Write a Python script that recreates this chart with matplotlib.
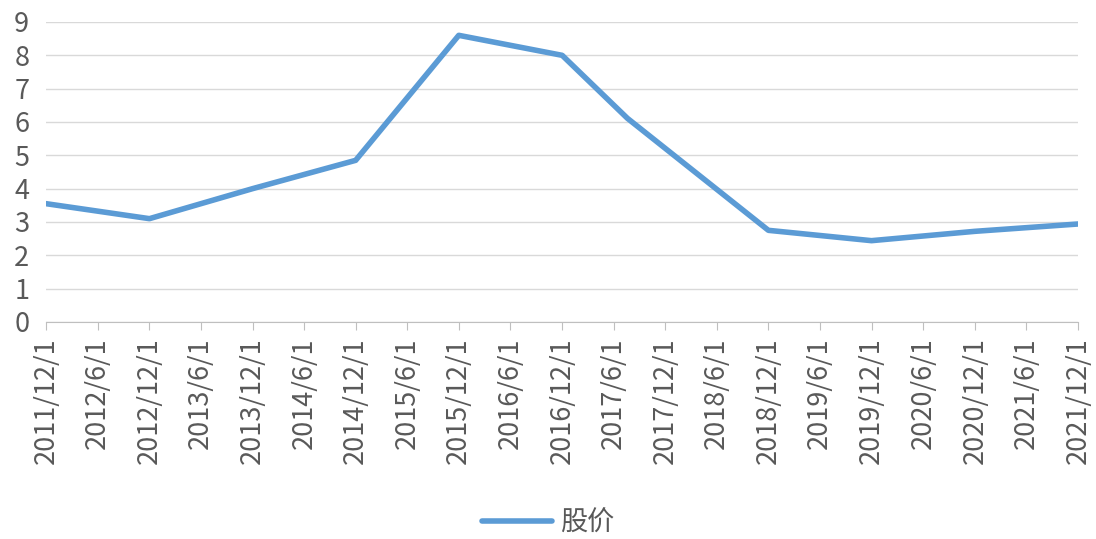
import datetime as dt
import matplotlib
matplotlib.use('Agg')
from matplotlib import pyplot as plt

plt.rcParams['font.family'] = ['Noto Sans CJK SC', 'DejaVu Sans']

# price points
dates = ['2011-12-01', '2012-12-01', '2013-12-01', '2014-12-01', '2015-12-01',
         '2016-12-01', '2017-07-20', '2018-12-01', '2019-12-01', '2020-12-01',
         '2021-12-01']
price = [3.55, 3.10, 4.00, 4.85, 8.60, 8.00, 6.11, 2.75, 2.44, 2.72, 2.94]
series_name = '股价'

tick_dates = []
for y in range(2011, 2022):
    for m in (6, 12):
        d = dt.date(y, m, 1)
        if dt.date(2011, 12, 1) <= d <= dt.date(2021, 12, 1):
            tick_dates.append(d)
tick_labels = [f'{d.year}/{d.month}/{d.day}' for d in tick_dates]

x = [dt.datetime.strptime(s, '%Y-%m-%d').date() for s in dates]

fig = plt.figure(figsize=(10.96, 5.39), dpi=100)
ax = fig.add_axes([0.042, 0.4026, 0.9416, 0.5566])

line, = ax.plot(x, price, color='#5b9bd5', lw=4, solid_joinstyle='round',
                solid_capstyle='round', label=series_name)

ax.set_xlim(dt.date(2011, 12, 1), dt.date(2021, 12, 1))
ax.set_ylim(0, 9)
ax.set_yticks(range(0, 10))
ax.set_xticks(tick_dates)
ax.set_xticklabels(tick_labels, rotation=90)
ax.grid(axis='y', color='#d9d9d9', lw=1)
ax.set_axisbelow(True)
for s in ('left', 'right', 'top'):
    ax.spines[s].set_visible(False)
ax.spines['bottom'].set_color('#bfbfbf')
ax.tick_params(axis='x', length=6, color='#bfbfbf', labelsize=19.5,
               labelcolor='#595959', pad=5)
ax.tick_params(axis='y', length=0, labelsize=19.5, labelcolor='#595959', pad=12)

fig.legend(handles=[line], loc='center', bbox_to_anchor=(0.5, 0.03),
           frameon=False, fontsize=19.5, labelcolor='#595959',
           handlelength=2.6, handletextpad=0.3)

fig.savefig('out.png', dpi=100)
